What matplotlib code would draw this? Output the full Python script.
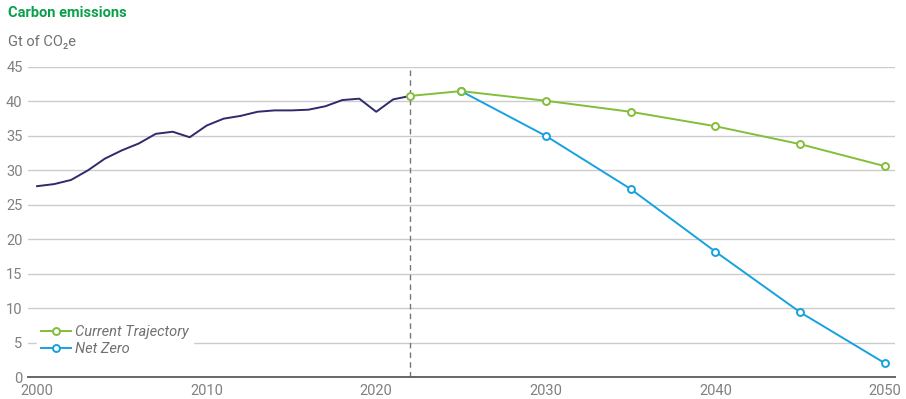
import matplotlib
matplotlib.use("Agg")
from matplotlib import pyplot as plt

plt.rcParams['font.family'] = ['Roboto', 'DejaVu Sans']

# historical emissions
hist_years = list(range(2000, 2023))
hist_values = [27.7, 28.0, 28.6, 30.0, 31.7, 32.9, 33.9, 35.3, 35.6, 34.8,
               36.5, 37.5, 37.9, 38.5, 38.7, 38.7, 38.8, 39.3, 40.2, 40.4,
               38.5, 40.3, 40.8]

# projections
ct_years = [2022, 2025, 2030, 2035, 2040, 2045, 2050]
ct_values = [40.8, 41.5, 40.1, 38.5, 36.4, 33.8, 30.6]
nz_years = [2025, 2030, 2035, 2040, 2045, 2050]
nz_values = [41.5, 35.0, 27.3, 18.2, 9.4, 2.0]

x_ticks = [2000, 2010, 2020, 2030, 2040, 2050]
y_ticks = [0, 5, 10, 15, 20, 25, 30, 35, 40, 45]

navy = '#2e2a6b'
green = '#84bd3a'
blue = '#16a2df'
cinza = '#808080'

fig = plt.figure(figsize=(9.06, 3.99), dpi=100)
ax = fig.add_axes([0.031, 0.0551, 0.957, 0.777])

# grade horizontal
for y in y_ticks[1:]:
    ax.axhline(y, color='#cccccc', lw=1.0, zorder=0)

ax.axvline(2022, color='#777777', lw=1.0, ls=(0, (4, 3)), zorder=1)

ax.plot(hist_years, hist_values, color=navy, lw=1.4, zorder=3)
ax.plot(nz_years, nz_values, color=blue, lw=1.4, marker='o', ms=5,
        mfc='white', mew=1.4, zorder=4, label='Net Zero')
ax.plot(ct_years, ct_values, color=green, lw=1.4, marker='o', ms=5,
        mfc='white', mew=1.4, zorder=5, label='Current Trajectory')

ax.set_xlim(1999.47, 2050.6)
ax.set_ylim(0, 45)
ax.set_xticks(x_ticks)
ax.set_yticks(y_ticks)
ax.tick_params(length=0, labelsize=10.5, colors=cinza)
ax.tick_params(axis='x', pad=5)
ax.tick_params(axis='y', pad=4)
for lado in ['top', 'right', 'left']:
    ax.spines[lado].set_visible(False)
ax.spines['bottom'].set_color('#666666')
ax.spines['bottom'].set_linewidth(1.4)

handles, labels = ax.get_legend_handles_labels()
leg = ax.legend(handles[::-1], labels[::-1], loc='lower left',
                bbox_to_anchor=(0.002, 0.03), frameon=True, framealpha=1,
                edgecolor='white', handlelength=2.0,
                handletextpad=0.3, labelspacing=0.2, borderpad=0.3,
                prop={'style': 'italic', 'size': 10.5})
for t in leg.get_texts():
    t.set_color('#707070')

fig.text(0.009, 0.968, 'Carbon emissions', color='#0aa04a', fontsize=10.5,
         fontweight='bold', va='center', ha='left')
fig.text(0.009, 0.895, 'Gt of CO\u2082e', color='#707070', fontsize=10.5,
         va='center', ha='left')

fig.savefig('out.png', dpi=100)
